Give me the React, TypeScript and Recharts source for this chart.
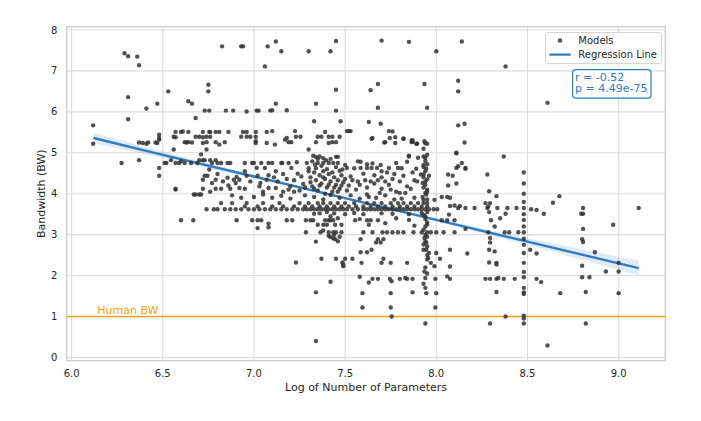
import React from 'react';
import {
  ComposedChart,
  Scatter,
  Line,
  Area,
  XAxis,
  YAxis,
  CartesianGrid,
  ReferenceLine,
  ReferenceArea,
  Legend,
} from 'recharts';

const FONT = '"DejaVu Sans", Verdana, sans-serif';
const TEXT = '#262626';
const GRID = '#dcdcdc';
const FRAME = '#cfcfcf';
const BLUE = '#2f7cc1';
const ORANGE = '#f0a30a';
const DOT = '#333333';

const X_DOMAIN = [5.973, 9.256];
const Y_DOMAIN = [-0.08, 8.08];
const xTicks = [6, 6.5, 7, 7.5, 8, 8.5, 9];
const yTicks = [0, 1, 2, 3, 4, 5, 6, 7, 8];

// regression line + confidence band
const fitX = [6.12, 6.5, 7.0, 7.5, 8.0, 8.5, 9.11];
const fitY = [5.36, 4.95, 4.42, 3.89, 3.36, 2.83, 2.18];
const bandLow = [5.23, 4.87, 4.38, 3.86, 3.32, 2.75, 2.0];
const bandHigh = [5.49, 5.03, 4.46, 3.92, 3.4, 2.91, 2.36];

const humanBW = 1;
const stats = { r: '-0.52', p: '4.49e-75' };

// models: [log params, bandwidth]
const upperPoints = [
  [6.29, 7.43], [6.31, 7.36], [6.36, 7.35], [6.37, 7.14], [6.31, 6.36], [6.31, 5.82], [6.41, 6.08],
  [6.47, 6.2], [6.53, 6.5], [6.64, 6.26], [6.66, 6.2], [6.68, 5.85], [6.75, 6.66], [6.75, 6.5],
  [6.73, 6.03], [6.755, 6.03], [6.825, 7.6], [6.846, 6.03], [6.886, 6.03], [6.93, 7.6], [6.94, 7.6],
  [6.96, 6.01], [7.015, 6.03], [7.025, 6.03], [7.06, 7.11], [7.075, 7.6], [7.09, 6.03], [7.1, 6.04],
  [7.12, 7.72], [7.12, 6.2], [7.15, 7.48], [7.18, 6.04], [7.3, 7.48], [7.33, 5.77], [7.34, 6.2],
  [7.42, 7.48], [7.45, 7.73], [7.45, 6.54], [7.45, 6.03], [7.475, 5.77], [7.64, 6.53], [7.68, 6.68],
  [7.68, 6.1], [7.63, 5.75], [7.695, 5.71], [7.7, 7.74], [7.85, 7.71], [7.935, 6.68], [7.95, 6.1],
  [8.0, 7.48], [8.12, 6.76], [8.12, 6.5], [8.12, 5.67], [8.155, 5.71], [8.14, 7.72], [8.38, 7.11],
  [8.61, 6.22],
];

const row55Points = [
  [6.57, 5.51], [6.6, 5.51], [6.61, 5.52], [6.64, 5.51], [6.72, 5.51], [6.755, 5.51], [6.76, 5.51],
  [6.79, 5.51], [6.81, 5.51], [6.86, 5.51], [6.94, 5.51], [6.96, 5.51], [7.01, 5.51], [7.07, 5.51],
  [7.1, 5.53], [7.225, 5.53], [7.39, 5.51], [7.51, 5.53], [7.52, 5.53], [7.53, 5.53], [7.74, 5.53],
  [7.76, 5.52],
];

const row52Points = [
  [6.118, 5.67], [6.118, 5.22], [6.37, 5.25], [6.39, 5.24], [6.41, 5.22], [6.42, 5.25], [6.46, 5.25],
  [6.47, 5.24], [6.48, 5.32], [6.48, 5.44], [6.48, 5.36], [6.56, 5.39], [6.57, 5.38], [6.62, 5.26],
  [6.63, 5.25], [6.64, 5.26], [6.66, 5.25], [6.68, 5.39], [6.7, 5.39], [6.72, 5.38], [6.72, 5.24],
  [6.74, 5.39], [6.74, 5.26], [6.76, 5.39], [6.79, 5.26], [6.81, 5.2], [6.84, 5.26], [6.93, 5.39],
  [6.96, 5.39], [6.98, 5.39], [7.01, 5.39], [7.01, 5.28], [7.01, 5.24], [7.07, 5.24], [7.115, 5.2],
  [7.17, 5.32], [7.18, 5.36], [7.19, 5.26], [7.205, 5.26], [7.23, 5.39], [7.255, 5.39], [7.34, 5.26],
  [7.35, 5.39], [7.37, 5.39], [7.41, 5.39], [7.43, 5.39], [7.41, 5.24], [7.43, 5.26], [7.45, 5.26],
  [7.47, 5.39], [7.645, 5.34], [7.65, 5.36], [7.715, 5.25], [7.72, 5.26], [7.745, 5.36], [7.775, 5.38],
  [7.775, 5.24], [7.82, 5.35], [7.865, 5.3], [7.87, 5.27], [7.895, 5.22], [7.935, 5.28], [7.94, 5.23],
  [7.95, 5.22], [8.155, 5.25], [6.56, 5.08], [7.3, 5.08], [8.11, 4.99], [6.71, 4.96], [6.74, 5.08],
  [7.82, 5.34], [7.865, 5.26], [7.87, 5.31], [7.89, 5.22], [8.11, 5.0],
];

const row48Points = [
  [6.274, 4.75], [6.37, 4.82], [6.48, 4.63], [6.48, 4.44], [6.51, 4.75], [6.52, 4.75], [6.545, 4.82],
  [6.57, 4.75], [6.59, 4.75], [6.6, 4.79], [6.62, 4.75], [6.655, 4.75], [6.69, 4.75], [6.7, 4.82],
  [6.72, 4.82], [6.73, 4.82], [6.76, 4.82], [6.77, 4.75], [6.79, 4.82], [6.8, 4.75], [6.82, 4.75],
  [6.855, 4.75], [6.87, 4.75], [6.95, 4.75], [6.99, 4.75], [7.0, 4.75], [7.04, 4.75], [7.08, 4.75],
  [7.015, 4.63], [7.06, 4.63], [6.755, 4.59], [6.95, 4.55], [7.1, 4.75], [7.15, 4.75], [7.155, 4.75],
  [7.19, 4.75], [7.205, 4.63], [7.235, 4.77], [7.29, 4.75], [7.32, 4.79], [7.335, 4.71], [7.35, 4.75],
  [7.38, 4.75], [7.395, 4.82], [7.41, 4.75], [7.435, 4.75], [7.46, 4.75], [7.485, 4.59], [7.51, 4.63],
  [7.325, 4.93], [7.34, 4.9], [7.36, 4.91], [7.38, 4.87], [7.45, 4.9], [7.46, 4.9], [7.57, 4.79],
  [7.585, 4.78], [7.585, 4.63], [7.62, 4.63], [7.645, 4.63], [7.65, 4.74], [7.675, 4.63], [7.695, 4.7],
  [7.7, 4.55], [7.74, 4.63], [7.78, 4.75], [7.79, 4.63], [7.85, 4.93], [7.85, 4.91], [7.93, 4.91],
  [7.94, 4.88], [7.89, 4.61], [7.93, 4.65], [7.945, 4.61],
];

const row43Points = [
  [6.57, 4.1], [6.57, 4.12], [6.72, 4.34], [6.73, 4.44], [6.745, 4.44], [6.77, 4.26], [6.79, 4.34],
  [6.72, 4.12], [6.79, 4.12], [6.82, 4.12], [6.83, 4.3], [6.855, 4.39], [6.87, 4.12], [6.89, 4.34],
  [6.9, 4.26], [6.905, 4.41], [6.92, 4.34], [6.92, 4.14], [6.96, 4.44], [7.02, 4.44], [7.035, 4.26],
  [7.07, 4.34], [7.08, 4.14], [7.24, 4.49], [7.11, 4.4], [7.13, 4.3], [7.12, 4.14], [7.16, 4.05],
  [7.18, 4.36], [7.2, 4.18], [7.22, 4.33], [7.25, 4.08], [7.27, 4.24], [7.3, 4.55], [7.31, 4.4],
  [7.32, 4.18], [7.33, 4.52], [7.34, 4.33], [7.35, 4.08], [7.36, 4.45], [7.37, 4.25], [7.38, 4.55],
  [7.39, 4.36], [7.4, 4.15], [7.41, 4.48], [7.42, 4.3], [7.43, 4.05], [7.44, 4.4], [7.45, 4.22],
  [7.46, 4.33], [7.47, 4.12], [7.48, 4.45], [7.49, 4.28], [7.5, 4.36], [7.52, 4.2], [7.54, 4.33],
  [7.56, 4.1], [7.57, 4.3], [7.58, 4.22], [7.6, 4.49], [7.61, 4.33], [7.62, 4.15], [7.64, 4.3],
  [7.66, 4.25], [7.68, 4.33], [7.7, 4.12], [7.72, 4.3], [7.74, 4.22], [7.76, 4.36], [7.78, 4.05],
  [7.8, 4.3], [7.82, 4.44], [7.84, 4.18], [7.86, 4.12], [7.88, 4.33], [7.895, 4.3], [7.915, 4.47],
  [7.925, 4.26], [7.93, 4.47], [7.94, 4.3], [7.95, 4.1], [7.94, 4.55], [7.96, 4.44], [7.93, 4.7],
  [7.94, 4.22],
];

const row39Points = [
  [6.67, 3.98], [6.68, 3.98], [6.7, 3.98], [6.71, 3.98], [6.88, 3.96], [6.93, 3.9], [7.0, 3.92],
  [7.05, 3.98], [7.1, 3.9], [7.15, 3.95], [7.2, 3.88], [7.28, 3.96], [7.33, 3.92], [7.38, 3.86],
  [7.42, 3.97], [7.47, 3.9], [7.53, 3.96], [7.58, 3.88], [7.62, 3.98], [7.67, 3.9], [7.72, 3.96],
  [7.77, 3.86], [7.8, 4.02], [7.83, 4.02], [7.88, 3.9], [7.925, 3.92], [7.94, 4.02], [7.945, 3.98],
  [7.95, 3.86], [7.99, 3.85], [8.03, 3.92], [8.06, 3.92], [8.075, 3.9],
];

// extra points in the crowded core (7.0-8.0, 3-5)
const corePoints = [
  [7.3, 4.62], [7.31, 4.28], [7.33, 4.12], [7.34, 4.62], [7.35, 4.85], [7.36, 4.2], [7.37, 4.68],
  [7.38, 4.4], [7.39, 4.0], [7.4, 4.6], [7.41, 4.22], [7.42, 4.85], [7.43, 4.52], [7.44, 4.15],
  [7.45, 4.65], [7.46, 4.05], [7.47, 4.56], [7.48, 4.2], [7.5, 4.7], [7.51, 4.08], [7.53, 4.42],
  [7.55, 4.62], [7.36, 3.52], [7.42, 3.45], [7.46, 3.4], [7.38, 3.1], [7.44, 3.0], [7.47, 2.95],
  [7.93, 5.1], [7.95, 4.95], [7.94, 4.8], [7.95, 4.72], [7.93, 4.4], [7.95, 4.35], [7.93, 4.15],
  [7.95, 4.05], [7.93, 3.85], [7.95, 3.55], [7.93, 3.48], [7.95, 3.25], [7.94, 3.0], [7.95, 2.95],
  [7.93, 2.76], [7.95, 2.5], [7.94, 2.2], [7.95, 2.05], [7.93, 1.8], [7.05, 4.05], [7.08, 4.45],
  [7.12, 4.55], [7.16, 4.48], [7.19, 4.1], [7.22, 4.05], [7.26, 4.42], [7.28, 4.15], [7.03, 4.18],
  [6.98, 4.3], [6.95, 4.12], [6.86, 4.2], [6.8, 4.48], [6.76, 4.05], [7.62, 4.72], [7.66, 4.45],
  [7.7, 4.4], [7.73, 4.52], [7.77, 4.48], [7.81, 4.62], [7.84, 4.78], [7.87, 4.52], [7.9, 4.88],
  [7.63, 3.92], [7.69, 4.02], [7.75, 4.1], [7.81, 3.88], [7.58, 3.38], [7.68, 3.35], [7.72, 3.28],
  [7.78, 3.4], [7.85, 3.36], [7.88, 3.22],
];

// the dense horizontal bands near 3.6-3.8
const band362X = [
  6.74, 6.78, 6.8, 6.84, 6.87, 6.9, 6.93, 6.97, 7.0, 7.03, 7.06, 7.09, 7.12, 7.15, 7.18, 7.21, 7.24,
  7.27, 7.29, 7.31, 7.33, 7.35, 7.37, 7.39, 7.41, 7.43, 7.45, 7.47, 7.49, 7.51, 7.54, 7.57, 7.6, 7.62,
  7.64, 7.66, 7.68, 7.7, 7.72, 7.74, 7.76, 7.78, 7.8, 7.82, 7.84, 7.86, 7.88, 7.9, 7.92, 7.94, 7.96,
  7.985, 8.005,
];
const band369X = [
  6.95, 7.02, 7.1, 7.16, 7.22, 7.28, 7.32, 7.36, 7.4, 7.44, 7.48, 7.52, 7.56, 7.6, 7.64, 7.68, 7.72,
  7.76, 7.8, 7.84, 7.88, 7.92, 7.95,
];
const band377X = [
  6.82, 6.88, 6.96, 7.05, 7.14, 7.25, 7.3, 7.35, 7.38, 7.42, 7.46, 7.5, 7.55, 7.62, 7.66, 7.7, 7.75,
  7.79, 7.82, 7.86, 7.9, 7.93, 7.95,
];

const row33Points = [
  [6.6, 3.35], [6.667, 3.35], [6.905, 3.35], [6.99, 3.35], [7.02, 3.35], [7.04, 3.35], [7.02, 3.16],
  [7.08, 3.27], [7.08, 3.18], [7.18, 3.35], [7.21, 3.35], [7.285, 3.35], [7.31, 3.35], [7.325, 3.35],
  [7.39, 3.35], [7.41, 3.35], [7.42, 3.35], [7.435, 3.35], [7.555, 3.35], [7.62, 3.35], [7.64, 3.35],
  [7.35, 3.24], [7.38, 3.24], [7.4, 3.24], [7.445, 3.24], [7.48, 3.24], [7.63, 3.24], [7.33, 3.51],
  [7.4, 3.55], [7.44, 3.52], [7.5, 3.5], [7.55, 3.53], [7.6, 3.5], [7.7, 3.52], [7.76, 3.51],
  [7.85, 3.5], [7.92, 3.53], [7.94, 3.45], [7.94, 3.38], [7.95, 3.3], [7.94, 3.2], [7.93, 3.12],
];

const lowPoints = [
  [7.285, 3.06], [7.365, 3.06], [7.41, 3.06], [7.435, 3.06], [7.45, 3.06], [7.48, 3.06], [7.6, 3.06],
  [7.65, 3.06], [7.705, 3.06], [7.73, 3.06], [7.76, 3.06], [7.79, 3.06], [7.82, 3.06], [7.875, 3.06],
  [7.92, 3.06], [7.95, 3.06], [7.97, 3.06], [8.0, 3.06], [8.04, 3.06], [8.1, 3.06], [7.41, 2.97],
  [7.435, 2.91], [7.46, 2.84], [7.42, 2.94], [7.445, 2.89], [7.34, 2.83], [7.585, 2.89], [7.68, 2.89],
  [7.695, 2.81], [7.71, 2.89], [7.67, 2.81], [7.935, 2.92], [7.94, 2.84], [7.945, 2.8], [7.95, 2.71],
  [7.945, 2.63], [7.93, 2.63], [7.96, 2.55], [7.955, 2.43], [7.95, 2.39], [7.585, 2.57], [7.62, 2.57],
  [7.645, 2.63], [7.23, 2.32], [7.37, 2.41], [7.45, 2.41], [7.485, 2.32], [7.49, 2.27], [7.49, 2.23],
  [7.5, 2.41], [7.54, 2.41], [7.59, 2.31], [7.7, 2.31], [7.71, 2.41], [7.75, 2.31], [7.84, 2.31],
  [7.97, 2.31], [7.99, 2.23], [8.02, 2.41], [8.0, 2.55], [7.42, 1.85], [7.34, 1.59], [7.34, 0.4],
  [7.58, 1.97], [7.63, 1.83], [7.65, 1.92], [7.68, 1.92], [7.745, 1.92], [7.755, 1.86], [7.8, 1.92],
  [7.83, 1.94], [7.84, 1.92], [7.87, 1.92], [7.935, 2.1], [7.94, 1.94], [7.94, 1.7], [7.945, 1.57],
  [7.94, 0.83], [7.995, 1.92], [8.0, 1.57], [7.995, 1.22], [7.595, 1.57], [7.75, 1.57], [7.87, 1.59],
  [7.595, 1.22], [7.75, 1.22], [7.755, 1.0],
];

const rightPoints = [
  [8.075, 3.7], [8.1, 3.71], [8.12, 3.65], [8.13, 3.7], [8.16, 3.65], [8.21, 3.65], [8.07, 3.49],
  [8.03, 3.35], [8.06, 3.35], [8.1, 3.35], [8.16, 3.14], [8.27, 3.77], [8.285, 3.69], [8.295, 3.77],
  [8.29, 3.55], [8.28, 3.65], [8.335, 3.65], [8.39, 3.65], [8.44, 3.65], [8.38, 3.51], [8.3, 3.35],
  [8.32, 3.2], [8.35, 3.4], [8.065, 4.47], [8.09, 4.44], [8.16, 4.63], [8.11, 4.63], [8.12, 4.67],
  [8.14, 4.75], [8.16, 4.61], [8.28, 4.47], [8.065, 4.2], [8.11, 4.25], [8.29, 4.06], [8.33, 3.94],
  [8.675, 3.94], [8.64, 3.78], [8.37, 4.91], [8.59, 3.51], [8.795, 3.51], [8.805, 3.51], [8.805, 3.65],
  [8.805, 3.14], [9.11, 3.65], [8.52, 3.62], [8.55, 3.6], [8.285, 3.06], [8.375, 3.06], [8.4, 3.06],
  [8.45, 3.06], [8.295, 2.92], [8.295, 2.81], [8.075, 2.63], [8.075, 2.22], [8.06, 1.98], [8.075, 1.92],
  [8.17, 2.54], [8.29, 2.63], [8.32, 2.59], [8.29, 2.32], [8.33, 2.31], [8.33, 2.27], [8.27, 1.92],
  [8.295, 1.92], [8.33, 1.92], [8.34, 1.94], [8.37, 1.92], [8.43, 1.92], [8.33, 1.6], [8.38, 1.0],
  [8.295, 0.83], [8.515, 2.63], [8.55, 2.54], [8.55, 1.92], [8.575, 1.84], [8.61, 0.29], [8.68, 1.57],
  [8.8, 2.89], [8.805, 2.82], [8.8, 2.24], [8.8, 1.96], [8.84, 1.96], [8.82, 1.6], [8.82, 0.83],
  [8.87, 2.57], [8.93, 2.1], [8.97, 3.24], [9.0, 2.31], [9.0, 2.1], [9.0, 1.57],
];

// the vertical column near 8.5
const col85Y = [
  4.52, 4.25, 4.0, 3.8, 3.65, 3.5, 3.36, 3.2, 3.06, 2.9, 2.75, 2.55, 2.31, 2.09, 1.96, 1.7, 1.59, 1.55,
  1.02, 0.95, 0.83,
];

const modelPoints = [
  ...upperPoints,
  ...row55Points,
  ...row52Points,
  ...row48Points,
  ...row43Points,
  ...row39Points,
  ...corePoints,
  ...band362X.map((x) => [x, 3.62]),
  ...band369X.map((x) => [x, 3.69]),
  ...band377X.map((x) => [x, 3.77]),
  ...row33Points,
  ...lowPoints,
  ...rightPoints,
  ...col85Y.map((y) => [8.48, y]),
].map(([x, y]) => ({ x, y }));

const fitData = fitX.map((x, i) => ({ x, fit: fitY[i], band: [bandLow[i], bandHigh[i]] }));

const ModelDot = (props: any) => (
  <circle cx={props.cx} cy={props.cy} r={2.2} fill={DOT} fillOpacity={0.85} />
);

const LegendBox = () => (
  <svg width={117} height={32} style={{ display: 'block' }}>
    <rect x={0.5} y={0.5} width={116} height={31} rx={2.5} fill="#ffffff" fillOpacity={0.85} stroke="#d6d6d6" />
    <circle cx={15} cy={8.5} r={2.2} fill={DOT} fillOpacity={0.85} />
    <text x={33.3} y={8.5} dominantBaseline="central" fontFamily={FONT} fontSize={10} fill={TEXT}>
      Models
    </text>
    <line x1={4.3} x2={25.7} y1={22.6} y2={22.6} stroke={BLUE} strokeWidth={2.2} />
    <text x={33.3} y={22.6} dominantBaseline="central" fontFamily={FONT} fontSize={10} fill={TEXT}>
      Regression Line
    </text>
  </svg>
);

const HumanLabel = ({ viewBox }: any) => (
  <text x={viewBox.x + 30.6} y={viewBox.y - 2.8} fontFamily={FONT} fontSize={11} fill={ORANGE}>
    Human BW
  </text>
);

const XTitle = ({ viewBox }: any) => (
  <text
    x={viewBox.x + viewBox.width / 2}
    y={387}
    textAnchor="middle"
    dominantBaseline="central"
    fontFamily={FONT}
    fontSize={11}
    fill={TEXT}
  >
    Log of Number of Parameters
  </text>
);

const YTitle = ({ viewBox }: any) => {
  const cx = 42;
  const cy = viewBox.y + viewBox.height / 2;
  return (
    <text
      x={cx}
      y={cy}
      transform={`rotate(-90, ${cx}, ${cy})`}
      textAnchor="middle"
      dominantBaseline="central"
      fontFamily={FONT}
      fontSize={11}
      fill={TEXT}
    >
      Bandwidth (BW)
    </text>
  );
};

export default function App() {
  return (
    <div style={{ position: 'absolute', left: 0, top: 0, width: 701, height: 421, background: '#fff' }}>
      <ComposedChart
        width={701}
        height={421}
        data={fitData}
        margin={{ top: 26.7, right: 35.7, left: 10.7, bottom: 30.3 }}
      >
        <CartesianGrid stroke={GRID} strokeWidth={1.1} />
        <XAxis
          type="number"
          dataKey="x"
          domain={X_DOMAIN}
          allowDataOverflow
          ticks={xTicks}
          tickFormatter={(v: number) => v.toFixed(1)}
          axisLine={false}
          tickLine={false}
          tickSize={6}
          tickMargin={3.5}
          height={30}
          tick={{ fontSize: 10, fill: TEXT, fontFamily: FONT }}
          label={XTitle}
        />
        <YAxis
          type="number"
          dataKey="y"
          domain={Y_DOMAIN}
          allowDataOverflow
          ticks={yTicks}
          axisLine={false}
          tickLine={false}
          tickSize={6}
          tickMargin={3.4}
          width={56}
          tick={{ fontSize: 10, fill: TEXT, fontFamily: FONT }}
          label={YTitle}
        />
        <ReferenceArea
          x1={X_DOMAIN[0]}
          x2={X_DOMAIN[1]}
          y1={Y_DOMAIN[0]}
          y2={Y_DOMAIN[1]}
          fill="none"
          stroke={FRAME}
          strokeWidth={1.2}
        />
        <Area
          dataKey="band"
          type="linear"
          stroke="none"
          fill={BLUE}
          fillOpacity={0.15}
          isAnimationActive={false}
          activeDot={false}
        />
        <ReferenceLine y={humanBW} stroke={ORANGE} strokeWidth={1.6} label={HumanLabel} />
        <Scatter name="Models" data={modelPoints} shape={ModelDot} isAnimationActive={false} />
        <Line
          name="Regression Line"
          dataKey="fit"
          type="linear"
          stroke={BLUE}
          strokeWidth={2.4}
          dot={false}
          activeDot={false}
          isAnimationActive={false}
        />
        <Legend
          content={<LegendBox />}
          layout="horizontal"
          align="center"
          verticalAlign="middle"
          wrapperStyle={{ left: 545, top: 31.7, width: 117, height: 32 }}
        />
      </ComposedChart>
      <svg
        width={80}
        height={30}
        style={{ position: 'absolute', left: 572, top: 69, display: 'block' }}
      >
        <rect x={0.6} y={0.6} width={78.4} height={28.6} rx={3} fill="#ffffff" stroke={BLUE} strokeWidth={1.2} />
        <text x={3} y={8} dominantBaseline="central" fontFamily={FONT} fontSize={11} fill={BLUE}>
          r = {stats.r}
        </text>
        <text x={3} y={19.5} dominantBaseline="central" fontFamily={FONT} fontSize={11} fill={BLUE}>
          p = {stats.p}
        </text>
      </svg>
    </div>
  );
}
